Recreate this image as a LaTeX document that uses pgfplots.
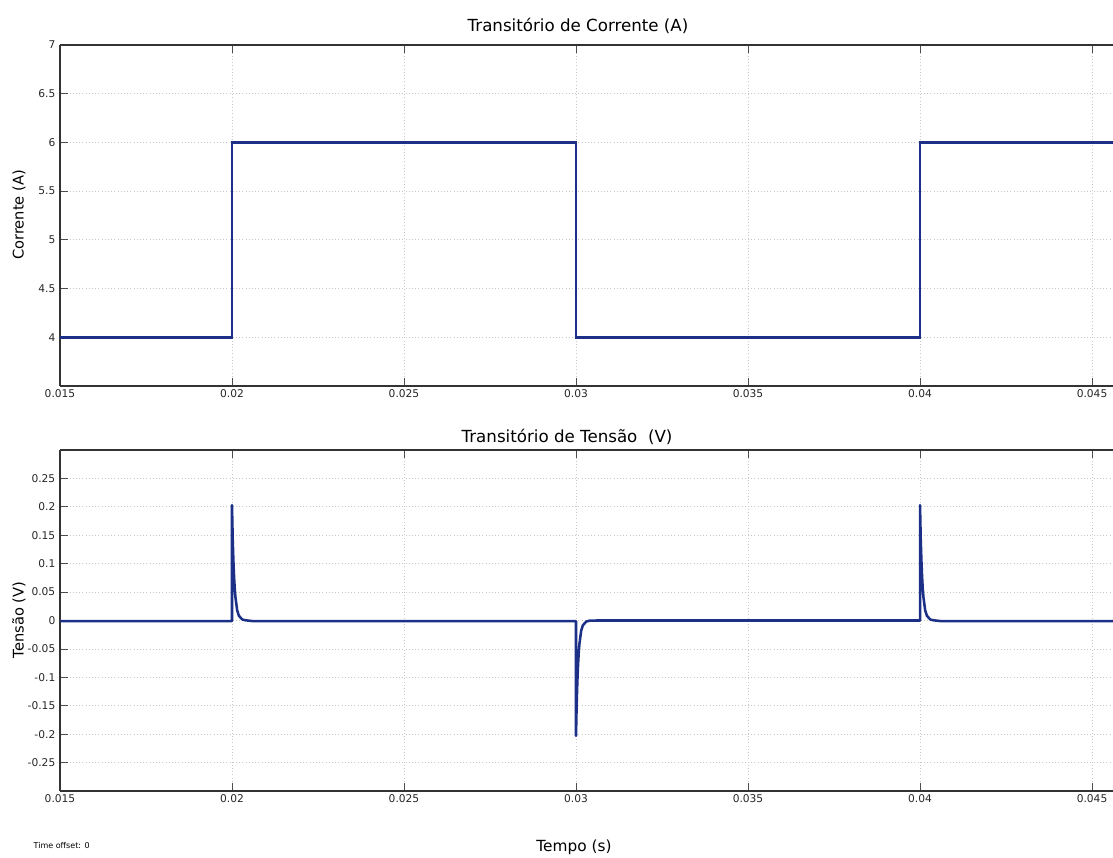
\documentclass[border=0pt]{standalone}
\usepackage{pgfplots}
\pgfplotsset{compat=1.18}
\usepackage{fontspec}
\setmainfont{DejaVu Sans}
\definecolor{navy}{RGB}{28,48,135}
\definecolor{gridc}{RGB}{200,200,200}
\pgfplotsset{
  myax/.style={
    scale only axis,
    width=789.75pt, height=255.75pt,
    xmin=0.015, xmax=0.04561,
    scaled x ticks=false, scaled y ticks=false,
    axis x line=box, axis y line=left,
    axis line style={black!80, line width=0.8pt, -},
    xtick={0.015,0.02,0.025,0.03,0.035,0.04,0.045},
    xticklabels={0.015,0.02,0.025,0.03,0.035,0.04,0.045},
    tick align=inside,
    x tick label style={font=\fontsize{8}{9}\selectfont, text=black!85, yshift=1pt},
    y tick label style={font=\fontsize{8}{9}\selectfont, text=black!85},
    major tick length=6pt,
    tick style={black!70, line width=0.6pt},
    grid=major,
    major grid style={gridc, dotted, line width=0.6pt},
    /pgf/number format/assume math mode=true,
    clip=true,
  }
}
\begin{document}
\begin{tikzpicture}
\path[use as bounding box] (0pt,0pt) rectangle (834.75pt,642.75pt);
\begin{axis}[myax, at={(45pt,353.25pt)}, anchor=south west,
  ymin=3.5, ymax=7, ytick={4,4.5,5,5.5,6,6.5,7},
  yticklabels={4,4.5,5,5.5,6,6.5,7}]
\addplot[navy, line width=1.9pt, line join=miter] coordinates {
(0.015,4) (0.02,4) (0.02,6) (0.03,6) (0.03,4) (0.04,4) (0.04,6) (0.0462,6)};
\end{axis}
\begin{axis}[myax, at={(45pt,49.5pt)}, anchor=south west,
  ymin=-0.3, ymax=0.3,
  ytick={-0.25,-0.2,-0.15,-0.1,-0.05,0,0.05,0.1,0.15,0.2,0.25},
  yticklabels={-0.25,-0.2,-0.15,-0.1,-0.05,0,0.05,0.1,0.15,0.2,0.25}]
\addplot[navy, line width=1.9pt, line join=round] coordinates {
(0.015,-0.001) (0.02,-0.001) (0.02,0.203) (0.02002,0.145) (0.02004,0.106) (0.02006,0.077) (0.02008,0.056) (0.0201,0.041) (0.02015,0.018) (0.0202,0.0083) (0.0203,0.0017) (0.0204,0.0003) (0.0206,-0.001)
(0.03,-0.001) (0.03,-0.203) (0.03002,-0.145) (0.03004,-0.106) (0.03006,-0.077) (0.03008,-0.056) (0.0301,-0.041) (0.03015,-0.018) (0.0302,-0.0083) (0.0303,-0.0017) (0.0304,-0.0003) (0.0306,0)
(0.04,0) (0.04,0.203) (0.04002,0.145) (0.04004,0.106) (0.04006,0.077) (0.04008,0.056) (0.0401,0.041) (0.04015,0.018) (0.0402,0.0083) (0.0403,0.0017) (0.0404,0.0003) (0.0406,-0.001) (0.0462,-0.001)};
\end{axis}
\begin{scope}[x=0.75pt,y=0.75pt]
\node[font=\fontsize{12.5}{14}\selectfont] at (578,831) {Transitório de Corrente (A)};
\node[font=\fontsize{12.5}{14}\selectfont] at (567,420) {Transitório de Tensão\ \ (V)};
\node[font=\fontsize{11}{13}\selectfont, rotate=90] at (19,642) {Corrente (A)};
\node[font=\fontsize{11}{13}\selectfont, rotate=90] at (19,237) {Tensão (V)};
\node[font=\fontsize{11.5}{13}\selectfont] at (574,10) {Tempo (s)};
\node[font=\fontsize{6}{7}\selectfont, anchor=west] at (29,11) {Time offset: 0};
\end{scope}
\end{tikzpicture}
\end{document}
